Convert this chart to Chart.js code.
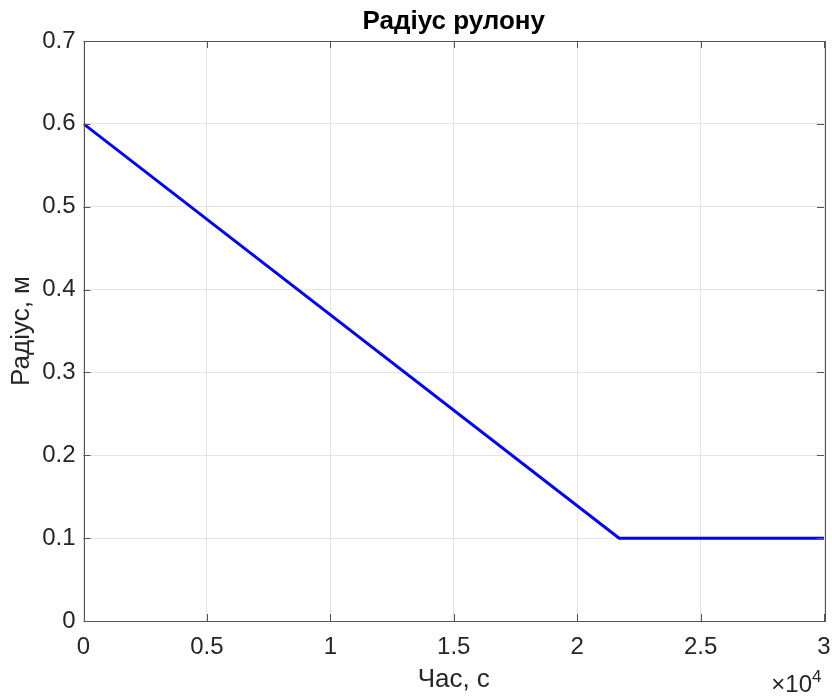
<!DOCTYPE html>
<html>
<head>
<meta charset="utf-8">
<script src="https://cdn.jsdelivr.net/npm/chart.js@4"></script>
<style>
  html, body { margin: 0; padding: 0; background: #fff; }
  #wrap { width: 832px; height: 697px; }
</style>
</head>
<body>
<div id="wrap"><canvas id="rollChart" width="832" height="697"></canvas></div>
<script>
// Радіус рулону в часі: лінійне спадання до мінімального радіуса, далі стала
const timeSec = [0, 21700, 30000];
const radiusM = [0.6, 0.1, 0.1];
const xTicks = [0, 5000, 10000, 15000, 20000, 25000, 30000];
const yTicks = [0, 0.1, 0.2, 0.3, 0.4, 0.5, 0.6, 0.7];

const FONT = '"Liberation Sans", Arial, Helvetica, sans-serif';
const TEXT = '#262626';
const AXIS = '#555555';
const GRID = '#e3e3e3';

const points = timeSec.map((t, i) => ({ x: t, y: radiusM[i] }));

// внутрішні риски по всіх чотирьох сторонах рамки + множник ×10^4
const matlabAxes = {
    id: 'matlabAxes',
    afterDraw(chart) {
        const c = chart.ctx;
        const a = chart.chartArea;
        const sx = chart.scales.x;
        const sy = chart.scales.y;
        const len = 7;
        c.save();
        c.strokeStyle = AXIS;
        c.lineWidth = 1;
        c.beginPath();
        xTicks.forEach(v => {
            const px = Math.round(sx.getPixelForValue(v)) + 0.5;
            c.moveTo(px, a.bottom); c.lineTo(px, a.bottom - len);
            c.moveTo(px, a.top); c.lineTo(px, a.top + len);
        });
        yTicks.forEach(v => {
            const py = Math.round(sy.getPixelForValue(v)) + 0.5;
            c.moveTo(a.left, py); c.lineTo(a.left + len, py);
            c.moveTo(a.right, py); c.lineTo(a.right - len, py);
        });
        c.stroke();
        c.strokeRect(Math.round(a.left) + 0.5, Math.round(a.top) + 0.5,
            Math.round(a.right - a.left), Math.round(a.bottom - a.top));

        // заголовок
        c.fillStyle = '#000';
        c.font = 'bold 26px ' + FONT;
        c.textAlign = 'center';
        c.textBaseline = 'alphabetic';
        c.fillText('Радіус рулону', (a.left + a.right) / 2, 29);

        // множник осі X
        c.fillStyle = TEXT;
        c.font = '24px ' + FONT;
        c.textAlign = 'right';
        c.fillText('\u00d710', 812, 692);
        c.font = '17px ' + FONT;
        c.textAlign = 'left';
        c.fillText('4', 812, 682);
        c.restore();
    }
};

const config = {
    type: 'scatter',
    data: {
        datasets: [{
            data: points,
            showLine: true,
            borderColor: '#0000ff',
            backgroundColor: '#0000ff',
            borderWidth: 3,
            pointRadius: 0,
            tension: 0
        }]
    },
    options: {
        responsive: false,
        animation: false,
        layout: { autoPadding: false, padding: { top: 41, right: 8, left: 0, bottom: 0 } },
        plugins: {
            legend: { display: false },
            tooltip: { enabled: false }
        },
        scales: {
            x: {
                type: 'linear',
                min: 0,
                max: 30000,
                afterBuildTicks: s => { s.ticks = xTicks.map(v => ({ value: v })); },
                afterFit: s => { s.height = 76; s.paddingLeft = 0; s.paddingRight = 0; },
                border: { display: false },
                grid: { color: GRID, drawTicks: false },
                ticks: {
                    padding: 12,
                    color: TEXT,
                    font: { family: FONT, size: 24 },
                    maxRotation: 0,
                    callback: v => String(v / 10000)
                },
                title: {
                    display: true,
                    text: 'Час, с',
                    color: TEXT,
                    font: { family: FONT, size: 26 },
                    padding: { top: 0, bottom: 2 }
                }
            },
            y: {
                min: 0,
                max: 0.7,
                afterBuildTicks: s => { s.ticks = yTicks.map(v => ({ value: v })); },
                afterFit: s => { s.width = 83.5; s.paddingTop = 0; s.paddingBottom = 0; },
                border: { display: false },
                grid: { color: GRID, drawTicks: false },
                ticks: {
                    padding: 8,
                    color: TEXT,
                    font: { family: FONT, size: 24 },
                    callback: v => String(Math.round(v * 10) / 10)
                },
                title: {
                    display: true,
                    text: 'Радіус, м',
                    color: TEXT,
                    font: { family: FONT, size: 26 },
                    padding: { top: 6, bottom: 0 }
                }
            }
        }
    },
    plugins: [matlabAxes]
};

const ctx = document.getElementById('rollChart').getContext('2d');
new Chart(ctx, config);
</script>
</body>
</html>
